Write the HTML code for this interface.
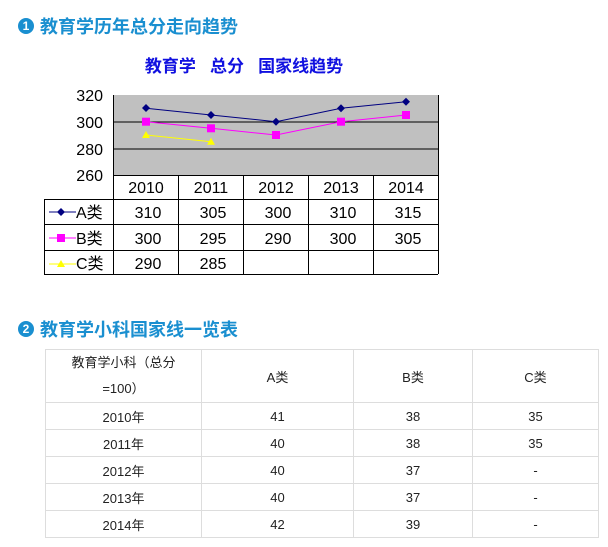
<!DOCTYPE html>
<html><head><meta charset="utf-8"><style>
body{margin:0;width:608px;height:547px;background:#fff;font-family:"Liberation Sans","Noto Sans CJK SC",sans-serif;position:relative;overflow:hidden}
.h{position:absolute;left:18px;font-size:18px;font-weight:bold;color:#1a8fd0;display:flex;align-items:center}
.h span.c{display:inline-block;width:16px;height:16px;border-radius:50%;background:#1a8fd0;color:#fff;font-size:12px;text-align:center;line-height:16px;margin-right:6px}
table.t{position:absolute;left:45px;top:349px;border-collapse:collapse;font-size:13px;color:#222}
table.t td{border:1px solid #ddd;text-align:center;padding:0}
</style></head><body>
<div class="h" style="top:13px"><span class="c">1</span>教育学历年总分走向趋势</div>
<svg style="position:absolute;left:0;top:0" width="608" height="300" font-family="Liberation Sans,Noto Sans CJK SC,sans-serif">
<text x="244" y="72" text-anchor="middle" font-size="17" font-weight="bold" fill="#1010e0">教育学&#160;&#160;&#160;总分&#160;&#160;&#160;国家线趋势</text>
<rect x="113" y="95" width="325" height="80" fill="#c0c0c0"/>
<line x1="113" y1="122" x2="438" y2="122" stroke="#000"/>
<line x1="113" y1="149" x2="438" y2="149" stroke="#000"/>
<line x1="113.5" y1="95" x2="113.5" y2="274" stroke="#000"/>
<g font-size="16" fill="#000" text-anchor="end">
<text x="103" y="101">320</text><text x="103" y="128">300</text><text x="103" y="155">280</text><text x="103" y="181">260</text></g>
<g stroke="#000" fill="none">
<line x1="113" y1="175.5" x2="438" y2="175.5"/><line x1="44" y1="199.5" x2="438" y2="199.5"/>
<line x1="44" y1="224.5" x2="438" y2="224.5"/><line x1="44" y1="250.5" x2="438" y2="250.5"/>
<line x1="44" y1="274.5" x2="438" y2="274.5"/><line x1="44.5" y1="199" x2="44.5" y2="274"/>
<line x1="178.5" y1="175" x2="178.5" y2="274"/><line x1="243.5" y1="175" x2="243.5" y2="274"/>
<line x1="308.5" y1="175" x2="308.5" y2="274"/><line x1="373.5" y1="175" x2="373.5" y2="274"/>
<line x1="438.5" y1="95" x2="438.5" y2="274"/></g>
<g font-size="16" text-anchor="middle" fill="#000">
<text x="146" y="193">2010</text><text x="211" y="193">2011</text><text x="276" y="193">2012</text><text x="341" y="193">2013</text><text x="406" y="193">2014</text>
<text x="148" y="218">310</text><text x="213" y="218">305</text><text x="278" y="218">300</text><text x="343" y="218">310</text><text x="408" y="218">315</text>
<text x="148" y="244">300</text><text x="213" y="244">295</text><text x="278" y="244">290</text><text x="343" y="244">300</text><text x="408" y="244">305</text>
<text x="148" y="269">290</text><text x="213" y="269">285</text></g>
<g font-size="16" fill="#000"><text x="76" y="218">A类</text><text x="76" y="244">B类</text><text x="76" y="269">C类</text></g>
<line x1="49" y1="212" x2="76" y2="212" stroke="#000080"/><path d="M61,208 L65,212 L61,216 L57,212Z" fill="#000080"/>
<line x1="49" y1="238" x2="76" y2="238" stroke="#ff00ff"/><rect x="57" y="234" width="8" height="8" fill="#ff00ff"/>
<line x1="49" y1="264" x2="76" y2="264" stroke="#ffff00"/><path d="M61,260 L65,267 L57,267Z" fill="#ffff00"/>
<polyline points="146,108.3 211,115 276,121.7 341,108.3 406,101.7" fill="none" stroke="#000080"/>
<g fill="#000080"><path d="M146,104 l4,4 l-4,4 l-4,-4Z"/><path d="M211,111 l4,4 l-4,4 l-4,-4Z"/><path d="M276,117.7 l4,4 l-4,4 l-4,-4Z"/><path d="M341,104.3 l4,4 l-4,4 l-4,-4Z"/><path d="M406,97.7 l4,4 l-4,4 l-4,-4Z"/></g>
<polyline points="146,121.7 211,128.3 276,135 341,121.7 406,115" fill="none" stroke="#ff00ff"/>
<g fill="#ff00ff"><rect x="142" y="117.7" width="8" height="8"/><rect x="207" y="124.3" width="8" height="8"/><rect x="272" y="131" width="8" height="8"/><rect x="337" y="117.7" width="8" height="8"/><rect x="402" y="111" width="8" height="8"/></g>
<polyline points="146,135 211,141.7" fill="none" stroke="#ffff00"/>
<g fill="#ffff00"><path d="M146,131 l4,7 l-8,0Z"/><path d="M211,137.7 l4,7 l-8,0Z"/></g>
</svg>
<div class="h" style="top:316px"><span class="c">2</span>教育学小科国家线一览表</div>
<table class="t">
<tr style="height:51px"><td style="width:155px;line-height:26px">教育学小科（总分<br>=100）</td><td style="width:151px">A类</td><td style="width:118px">B类</td><td style="width:125px">C类</td></tr>
<tr style="height:27px"><td>2010年</td><td>41</td><td>38</td><td>35</td></tr>
<tr style="height:27px"><td>2011年</td><td>40</td><td>38</td><td>35</td></tr>
<tr style="height:27px"><td>2012年</td><td>40</td><td>37</td><td>-</td></tr>
<tr style="height:27px"><td>2013年</td><td>40</td><td>37</td><td>-</td></tr>
<tr style="height:27px"><td>2014年</td><td>42</td><td>39</td><td>-</td></tr>
</table>
</body></html>
